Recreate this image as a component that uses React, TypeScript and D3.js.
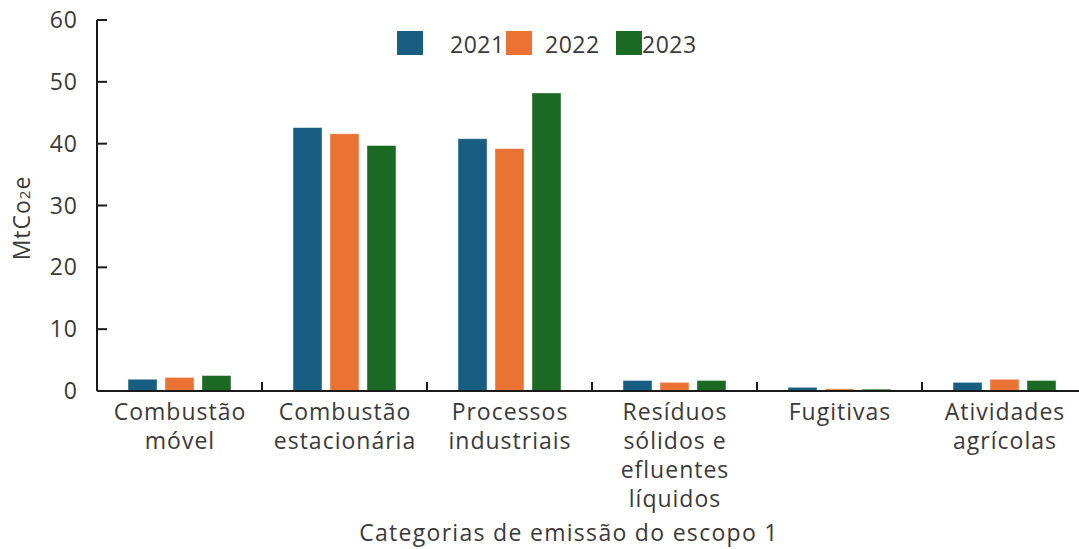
import React from "react";
import * as d3 from "d3";

const categories: string[][] = [
  ["Combustão", "móvel"],
  ["Combustão", "estacionária"],
  ["Processos", "industriais"],
  ["Resíduos", "sólidos e", "efluentes", "líquidos"],
  ["Fugitivas"],
  ["Atividades", "agrícolas"],
];
const years = ["2021", "2022", "2023"];
const values2021 = [1.9, 42.6, 40.8, 1.7, 0.6, 1.4];
const values2022 = [2.2, 41.6, 39.2, 1.4, 0.35, 1.9];
const values2023 = [2.5, 39.7, 48.2, 1.7, 0.3, 1.7];
const yTicks = [0, 10, 20, 30, 40, 50, 60];
const colors = ["#175e82", "#ea7333", "#1b6a24"];

const series = [values2021, values2022, values2023];

export default function App() {
  const W = 1079, H = 549;
  const left = 97, right = 1087, top = 20, bottom = 391;
  const font = "'Open Sans', sans-serif";
  const textColor = "#3a3a3a";
  const fs = 23;
  const ls = 1;

  const x0 = d3.scaleBand<number>().domain(d3.range(categories.length)).range([left, right]).padding(0);
  const bw = x0.bandwidth();
  const groupW = bw * 0.624;
  const x1 = d3.scaleBand<number>().domain([0, 1, 2]).range([(bw - groupW) / 2, (bw + groupW) / 2]).paddingInner(0.216).paddingOuter(0);
  const y = d3.scaleLinear().domain([0, 60]).range([bottom, top]);

  const legendX = [397, 506, 616];
  const legendTextX = [450, 545, 642];

  return (
    <svg width={W} height={H} style={{ position: "absolute", left: 0, top: 0, background: "#fff" }} fontFamily={font}>
      {/* bars */}
      {series.map((vals, si) =>
        vals.map((v, ci) => (
          <rect
            key={`${si}-${ci}`}
            x={(x0(ci) ?? 0) + (x1(si) ?? 0)}
            y={y(v)}
            width={x1.bandwidth()}
            height={bottom - y(v)}
            fill={colors[si]}
            stroke="#ffffff"
            strokeOpacity={0.5}
            strokeWidth={0.8}
          />
        ))
      )}
      {/* y axis */}
      <line x1={left} x2={left} y1={top} y2={bottom} stroke="#1a1a1a" strokeWidth={2} />
      {yTicks.map((t) => (
        <g key={t}>
          <line x1={left} x2={left + 10} y1={y(t)} y2={y(t)} stroke="#1a1a1a" strokeWidth={2} />
          <text x={78} y={y(t)} dy="0.35em" textAnchor="end" fontSize={fs} letterSpacing={ls} fill={textColor}>
            {t}
          </text>
        </g>
      ))}
      {/* x axis */}
      <line x1={left} x2={right} y1={bottom} y2={bottom} stroke="#1a1a1a" strokeWidth={2} />
      {d3.range(1, categories.length).map((i) => (
        <line key={i} x1={x0(i)} x2={x0(i)} y1={bottom} y2={bottom - 9} stroke="#1a1a1a" strokeWidth={2} />
      ))}
      {categories.map((lines, ci) => (
        <text key={ci} textAnchor="middle" fontSize={fs} letterSpacing={ls} fill={textColor}>
          {lines.map((l, li) => (
            <tspan key={li} x={(x0(ci) ?? 0) + bw / 2 + ls / 2} y={420 + li * 29}>
              {l}
            </tspan>
          ))}
        </text>
      ))}
      {/* axis titles */}
      <text x={569} y={541} textAnchor="middle" fontSize={fs} letterSpacing={1.3} fill={textColor}>
        Categorias de emissão do escopo 1
      </text>
      <text transform={`translate(30,218) rotate(-90)`} textAnchor="middle" fontSize={fs} letterSpacing={ls} fill={textColor}>
        MtCo<tspan fontSize={15}>2</tspan>e
      </text>
      {/* legend */}
      {years.map((yr, i) => (
        <g key={yr}>
          <rect x={legendX[i]} y={31} width={26} height={24} fill={colors[i]} />
          <text x={legendTextX[i]} y={53} fontSize={fs} letterSpacing={0.5} fill={textColor}>
            {yr}
          </text>
        </g>
      ))}
    </svg>
  );
}
